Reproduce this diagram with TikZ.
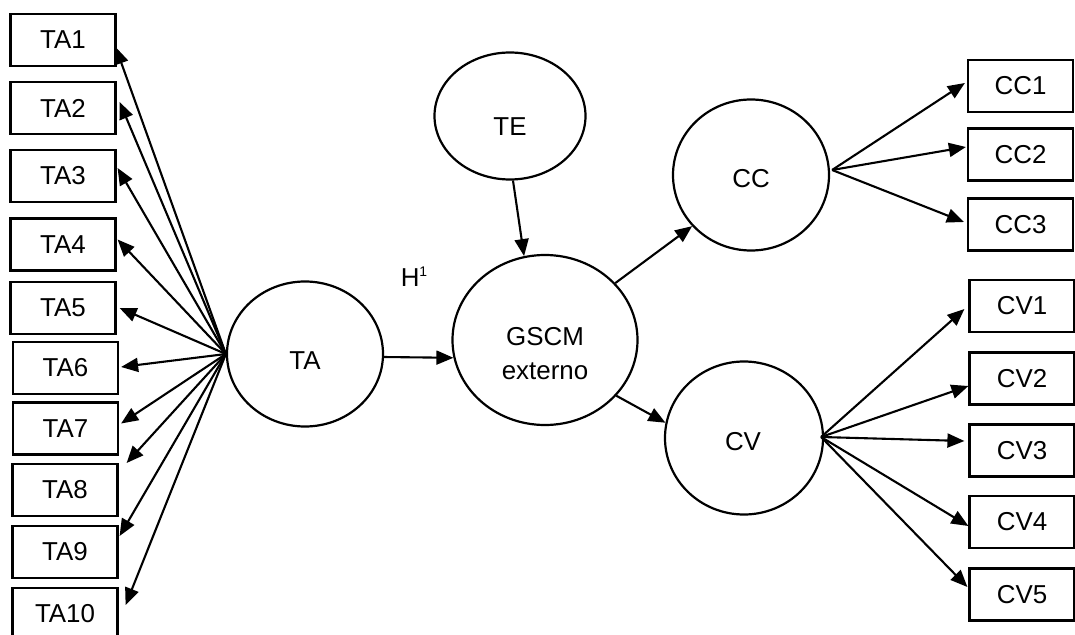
\documentclass[tikz,border=0pt]{standalone}
\usepackage{fontspec}
\setmainfont{Liberation Sans}
\usetikzlibrary{arrows.meta,calc,shapes.geometric}
\begin{document}
\begin{tikzpicture}[x=1bp,y=-1bp,
  every node/.style={font=\fontsize{26}{34}\selectfont},
  box/.style={draw,line width=2.2bp,rectangle,minimum width=105bp,minimum height=52bp,inner sep=0pt},
  ell/.style={draw,line width=2.2bp,ellipse,inner sep=0pt},
  arr/.style={line width=2.1bp,-{Triangle[length=17bp,width=14bp]}}
]
\useasboundingbox (0,0) rectangle (1075,635);
\clip (0,0) rectangle (1075,635);
% indicator boxes
\node[box] (TA1) at (63,40) {TA1};
\node[box] (TA2) at (63,108) {TA2};
\node[box] (TA3) at (63,176) {TA3};
\node[box] (TA4) at (63,244.5) {TA4};
\node[box] (TA5) at (63,308) {TA5};
\node[box] (TA6) at (65.5,368) {TA6};
\node[box] (TA7) at (65.5,428.5) {TA7};
\node[box] (TA8) at (65,490) {TA8};
\node[box] (TA9) at (65,552) {TA9};
\node[box] (TA10) at (65,614) {TA10};
\node[box] (CC1) at (1020.5,86) {CC1};
\node[box] (CC2) at (1020.5,154.5) {CC2};
\node[box] (CC3) at (1020.5,224.5) {CC3};
\node[box] (CV1) at (1022,306) {CV1};
\node[box] (CV2) at (1022,378.5) {CV2};
\node[box] (CV3) at (1022,450.5) {CV3};
\node[box] (CV4) at (1022,522) {CV4};
\node[box] (CV5) at (1022,594.5) {CV5};
% latent constructs
\node[ell,minimum width=156bp,minimum height=145bp] (TA) at (305,354) {};
\node (TAt) at (305,361) {TA};
\node[ell,minimum width=151bp,minimum height=127bp] (TE) at (510,116) {};
\node (TEt) at (510,127) {TE};
\node[ell,minimum width=185bp,minimum height=170bp] (GSCM) at (545,340) {};
\node[align=center] (GSCMt) at (545,354) {GSCM\\externo};
\node[ell,minimum width=156bp,minimum height=151bp] (CC) at (751,175) {};
\node (CCt) at (751,179) {CC};
\node[ell,minimum width=158bp,minimum height=153bp] (CV) at (744,438) {};
\node (CVt) at (743,442) {CV};
\node (H1) at (414,277) {H\raisebox{10bp}{\fontsize{14}{14}\selectfont 1}};
% TA fan
\draw[arr] (TA.west) -- ($(TA1.east)+(-1,7)$);
\draw[arr] (TA.west) -- ($(TA2.east)+(3,-6)$);
\draw[arr] (TA.west) -- ($(TA3.east)+(1,-8)$);
\draw[arr] (TA.west) -- ($(TA4.east)+(1,-5)$);
\draw[arr] (TA.west) -- ($(TA5.east)+(3,0)$);
\draw[arr] (TA.west) -- ($(TA6.east)+(2,-1)$);
\draw[arr] (TA.west) -- ($(TA7.east)+(2,-5)$);
\draw[arr] (TA.west) -- ($(TA8.east)+(8,-27)$);
\draw[arr] (TA.west) -- ($(TA9.east)+(1,-16)$);
\draw[arr] (TA.west) -- ($(TA10.east)+(7,-9)$);
% structural paths
\draw[arr] ($(TA.east)+(-1,3)$) -- (GSCM.191);
\draw[arr] ($(TE.south)+(3,0)$) -- (GSCM.104);
\draw[arr] (GSCM.39) -- (CC.221);
\draw[arr] (GSCM.-38) -- (CV.169);
% CC fan
\coordinate (CCo) at ($(CC.east)+(2,-5)$);
\draw[arr] (CCo) -- ($(CC1.west)+(-2,-3)$);
\draw[arr] (CCo) -- ($(CC2.west)+(-1,-7.5)$);
\draw[arr] (CCo) -- ($(CC3.west)+(-3,-2.5)$);
% CV fan
\coordinate (CVo) at ($(CV.east)+(-3,-1)$);
\draw[arr] (CVo) -- ($(CV1.west)+(-4,3)$);
\draw[arr] (CVo) -- ($(CV2.west)+(0,7.5)$);
\draw[arr] (CVo) -- ($(CV3.west)+(-4,-9.5)$);
\draw[arr] (CVo) -- ($(CV4.west)+(0,4)$);
\draw[arr] (CVo) -- ($(CV5.west)+(-1,-7.5)$);
\end{tikzpicture}
\end{document}
